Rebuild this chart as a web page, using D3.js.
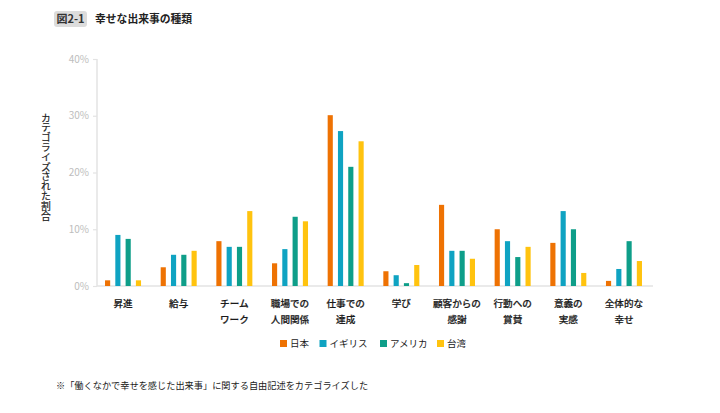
<!DOCTYPE html>
<html><head><meta charset="utf-8">
<script src="https://cdn.jsdelivr.net/npm/d3@7"></script>
<style>
html,body{margin:0;padding:0;background:#fff;}
text{font-family:"Noto Sans CJK JP","Noto Sans",sans-serif;}
</style></head>
<body><svg id="c" width="720" height="413"></svg>
<script>
const categories = [["昇進"],["給与"],["チーム","ワーク"],["職場での","人間関係"],["仕事での","達成"],["学び"],["顧客からの","感謝"],["行動への","賞賛"],["意義の","実感"],["全体的な","幸せ"]];
const seriesNames = ["日本","イギリス","アメリカ","台湾"];
const japan   = [1.0, 3.3, 7.9, 4.0, 30.1, 2.6, 14.3, 10.0, 7.6, 0.9];
const uk      = [9.0, 5.5, 6.9, 6.5, 27.3, 1.9, 6.2, 7.9, 13.2, 3.0];
const usa     = [8.3, 5.5, 6.9, 12.2, 21.0, 0.5, 6.2, 5.1, 10.0, 7.9];
const taiwan  = [1.0, 6.2, 13.2, 11.4, 25.5, 3.7, 4.8, 6.9, 2.3, 4.4];
const yTicks = [0, 10, 20, 30, 40];
const yLabel = "カテゴライズされた割合";
const colors = ["#EE7203","#0FA3C2","#0E9E89","#FFC30F"];

const svg = d3.select("#c");
const series = [japan, uk, usa, taiwan];
const keys = categories.map((c,i)=>i);

const x0 = d3.scaleBand().domain(keys).range([95.2, 651.8]).paddingInner(0.353).paddingOuter(0.1765);
const x1 = d3.scaleBand().domain(seriesNames).range([0, x0.bandwidth()]).paddingInner(0.5).paddingOuter(0);
const y = d3.scaleLinear().domain([0, 40]).range([286, 59]);

// Title
svg.append("rect").attr("x",54).attr("y",11).attr("width",33).attr("height",16).attr("rx",3).attr("fill","#dcdcdc");
svg.append("text").attr("x",70.5).attr("y",23).attr("text-anchor","middle").attr("font-size",11).attr("font-weight","bold").attr("fill","#333").text("図2-1");
svg.append("text").attr("x",95).attr("y",23).attr("font-size",10.8).attr("font-weight","bold").attr("fill","#222").text("幸せな出来事の種類");

// Y axis
const yAxis = d3.axisLeft(y).tickValues(yTicks).tickFormat(d=>d+"%").tickSize(4).tickPadding(4);
const ga = svg.append("g").attr("transform","translate(97,0)").call(yAxis);
ga.select(".domain").attr("stroke","#e3e3e3").attr("stroke-width",1.5).attr("d","M0,59V286");
ga.selectAll(".tick line").attr("stroke","#e3e3e3").attr("stroke-width",1.2);
ga.selectAll(".tick text").attr("fill","#bdbdbd").attr("font-size",10).attr("font-family","'Noto Sans','Noto Sans CJK JP',sans-serif");

// baseline
svg.append("line").attr("x1",97).attr("x2",653).attr("y1",y(0)).attr("y2",y(0)).attr("stroke","#e3e3e3").attr("stroke-width",1.5);

// Bars
const g = svg.append("g");
series.forEach((vals, si) => {
  g.selectAll(null).data(vals).enter().append("rect")
    .attr("x",(d,i)=>x0(i)+x1(seriesNames[si]))
    .attr("y",d=>y(d))
    .attr("width",x1.bandwidth())
    .attr("height",d=>y(0)-y(d))
    .attr("fill",colors[si]);
});

// X labels
const xl = svg.append("g");
categories.forEach((lines,i)=>{
  const t = xl.append("text").attr("text-anchor","middle").attr("font-size",9.6).attr("fill","#1a1a1a").attr("font-weight","500")
    .attr("stroke","#1a1a1a").attr("stroke-width",0.2);
  lines.forEach((ln,j)=>{
    t.append("tspan").attr("x",x0(i)+x0.bandwidth()/2).attr("y",306.5+j*16.5).text(ln);
  });
});

// Y label (vertical writing)
svg.append("text").attr("x",46).attr("y",113).attr("font-size",9.8).attr("fill","#1a1a1a")
  .attr("stroke","#1a1a1a").attr("stroke-width",0.2)
  .style("writing-mode","vertical-rl")
  .text(yLabel);

// Legend
const legendX = [280, 319.5, 380, 437];
const lg = svg.append("g");
seriesNames.forEach((n,i)=>{
  lg.append("rect").attr("x",legendX[i]).attr("y",340).attr("width",7).attr("height",7).attr("fill",colors[i]);
  lg.append("text").attr("x",legendX[i]+10).attr("y",347).attr("font-size",9.5).attr("fill","#1a1a1a").text(n);
});

// Footnote
svg.append("text").attr("x",56).attr("y",388.5).attr("font-size",9.2).attr("fill","#1a1a1a")
  .text("※「働くなかで幸せを感じた出来事」に関する自由記述をカテゴライズした");
</script></body></html>
